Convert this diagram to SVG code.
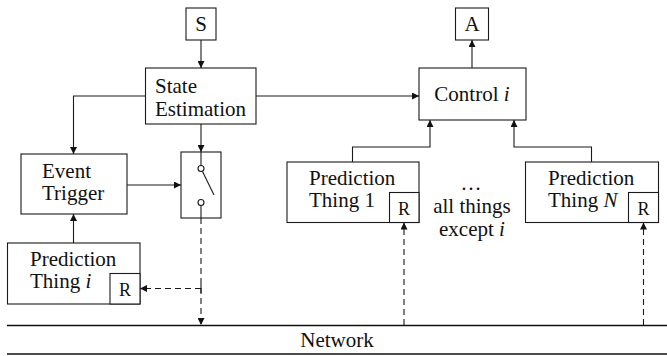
<svg xmlns="http://www.w3.org/2000/svg" width="667" height="356" viewBox="0 0 667 356">
<style>
.box{fill:#fff;stroke:#1a1a1a;stroke-width:1.1}
.t{font-family:"Liberation Serif","Times New Roman",serif;font-size:21px;fill:#111}
.r{font-family:"Liberation Serif","Times New Roman",serif;font-size:18px;fill:#111}
.m{font-style:italic}
.c{text-anchor:middle}
.ln{fill:none;stroke:#1a1a1a;stroke-width:1.1}
.d{fill:none;stroke:#1a1a1a;stroke-width:1.1;stroke-dasharray:6 4}
.net{stroke:#111;stroke-width:1.6}
</style>
<defs>
<marker id="ah" viewBox="0 0 10 10" refX="10" refY="5" markerWidth="7" markerHeight="7" markerUnits="userSpaceOnUse" orient="auto">
<path d="M0,0 L10,5 L0,10 z" fill="#111"/>
</marker>
</defs>
<g id="network">
<line class="net" x1="7" y1="325.5" x2="667" y2="325.5"/>
<line class="net" x1="7" y1="354" x2="667" y2="354"/>
<text class="t c" x="337" y="347">Network</text>
</g>
<g id="S">
<rect class="box" x="186" y="8" width="30" height="32"/>
<text class="t c" x="201" y="31">S</text>
</g>
<g id="A">
<rect class="box" x="455.5" y="8" width="33" height="32"/>
<text class="t c" x="472" y="31">A</text>
</g>
<g id="state-estimation">
<rect class="box" x="145.5" y="68" width="110.5" height="56"/>
<text class="t" x="155" y="93">State</text>
<text class="t" x="155" y="116">Estimation</text>
</g>
<g id="control">
<rect class="box" x="419" y="68" width="107" height="52"/>
<text class="t c" x="472" y="101">Control <tspan class="m">i</tspan></text>
</g>
<g id="event-trigger">
<rect class="box" x="21" y="154" width="106" height="60"/>
<text class="t" x="42" y="178">Event</text>
<text class="t" x="42" y="200">Trigger</text>
</g>
<g id="switch">
<rect class="box" x="181" y="152" width="40" height="66"/>
<line class="ln" x1="201" y1="152" x2="201" y2="165.5"/>
<circle cx="201" cy="168.5" r="3" fill="#fff" stroke="#1a1a1a" stroke-width="1.1"/>
<line class="ln" x1="202.5" y1="171.5" x2="214" y2="195"/>
<circle cx="201" cy="202.5" r="3" fill="#fff" stroke="#1a1a1a" stroke-width="1.1"/>
<line class="ln" x1="201" y1="205.5" x2="201" y2="218"/>
</g>
<g id="prediction-i">
<rect class="box" x="7.5" y="243" width="132.5" height="61"/>
<rect class="box" x="110" y="273.5" width="30" height="30.5"/>
<text class="t" x="30" y="266">Prediction</text>
<text class="t" x="30" y="288">Thing <tspan class="m">i</tspan></text>
<text class="r c" x="125" y="296">R</text>
</g>
<g id="prediction-1">
<rect class="box" x="287" y="162" width="132" height="60.5"/>
<rect class="box" x="389.5" y="192.5" width="29.5" height="30"/>
<text class="t" x="309" y="185">Prediction</text>
<text class="t" x="309" y="207">Thing 1</text>
<text class="r c" x="404" y="215">R</text>
</g>
<g id="prediction-n">
<rect class="box" x="525.5" y="162" width="133" height="60.5"/>
<rect class="box" x="628.5" y="192.5" width="30" height="30"/>
<text class="t" x="548" y="185">Prediction</text>
<text class="t" x="548" y="207">Thing <tspan class="m">N</tspan></text>
<text class="r c" x="643.5" y="215">R</text>
</g>
<g id="others-label">
<text class="t c" x="472" y="190" letter-spacing="2">…</text>
<text class="t c" x="472" y="213">all things</text>
<text class="t c" x="472" y="236">except <tspan class="m">i</tspan></text>
</g>
<g id="connectors">
<line class="ln" x1="201" y1="40" x2="201" y2="68" marker-end="url(#ah)"/>
<polyline class="ln" points="145.5,96 73.5,96 73.5,154" marker-end="url(#ah)"/>
<line class="ln" x1="201" y1="124" x2="201" y2="152" marker-end="url(#ah)"/>
<line class="ln" x1="256" y1="96" x2="419" y2="96" marker-end="url(#ah)"/>
<line class="ln" x1="472" y1="68" x2="472" y2="40" marker-end="url(#ah)"/>
<line class="ln" x1="127" y1="185" x2="181" y2="185" marker-end="url(#ah)"/>
<line class="ln" x1="73.5" y1="243" x2="73.5" y2="214" marker-end="url(#ah)"/>
<polyline class="ln" points="352.5,162 352.5,147 430,147 430,120" marker-end="url(#ah)"/>
<polyline class="ln" points="591.5,162 591.5,147 514,147 514,120" marker-end="url(#ah)"/>
<line class="d" x1="201" y1="218" x2="201" y2="325" marker-end="url(#ah)"/>
<line class="ln" x1="201" y1="284" x2="201" y2="293"/>
<line class="d" x1="201" y1="288.5" x2="140" y2="288.5" marker-end="url(#ah)"/>
<line class="d" x1="404" y1="325" x2="404" y2="222.5" marker-end="url(#ah)"/>
<line class="d" x1="643.5" y1="325" x2="643.5" y2="222.5" marker-end="url(#ah)"/>
</g>
</svg>
